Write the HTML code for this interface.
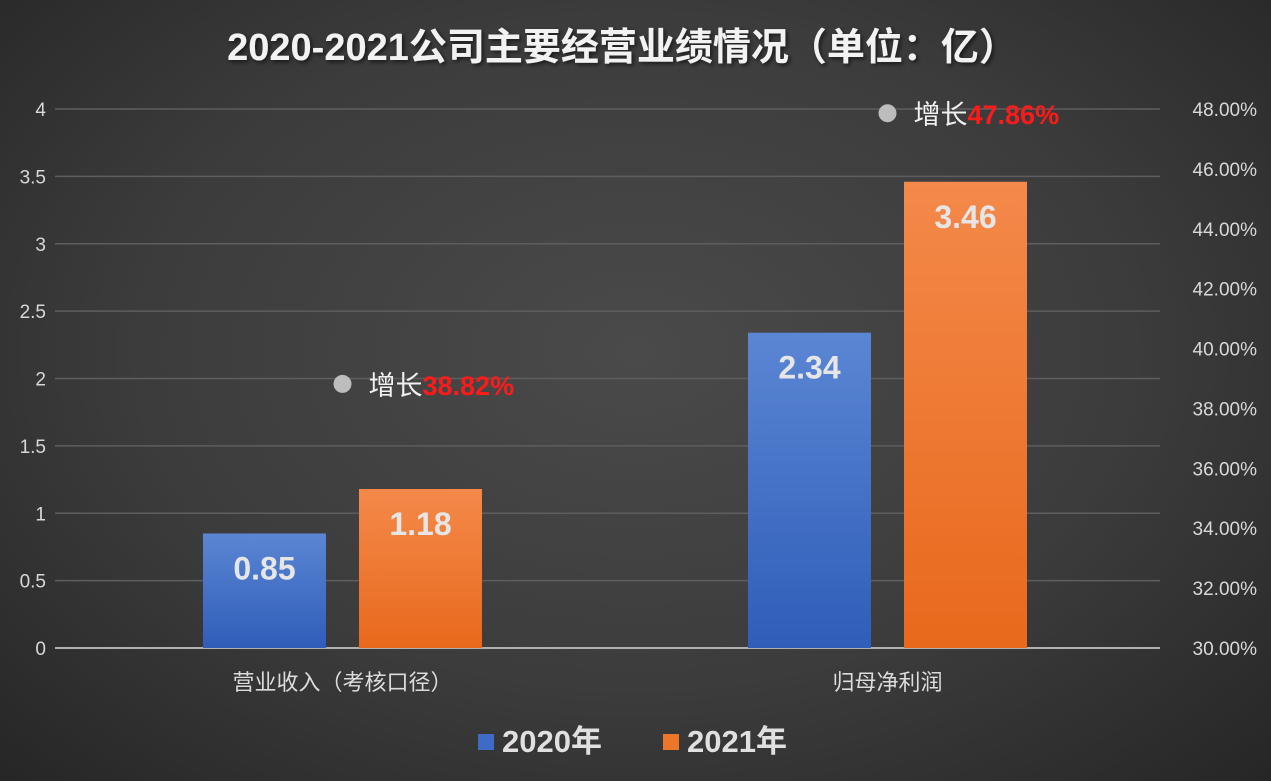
<!DOCTYPE html>
<html><head><meta charset="utf-8"><style>
html,body{margin:0;padding:0;}
body{width:1271px;height:781px;overflow:hidden;background:radial-gradient(ellipse at 50% 45%,#4a4a4a 0%,#3c3c3c 55%,#262626 100%);font-family:"Liberation Sans","Noto Sans CJK SC",sans-serif;}
svg{display:block}
</style></head><body>
<svg id="chart" width="1271" height="781" xmlns="http://www.w3.org/2000/svg">
<defs>
<linearGradient id="gb" x1="0" y1="0" x2="0" y2="1"><stop offset="0" stop-color="#5b86d4"/><stop offset="1" stop-color="#2f5db8"/></linearGradient>
<linearGradient id="go" x1="0" y1="0" x2="0" y2="1"><stop offset="0" stop-color="#f4894a"/><stop offset="1" stop-color="#e8691c"/></linearGradient>
<filter id="sh"><feDropShadow dx="2" dy="2" stdDeviation="2" flood-color="#000" flood-opacity="0.6"/></filter>
</defs>
<text x="622" y="60" text-anchor="middle" font-size="38" font-weight="bold" fill="#f2f2f2" filter="url(#sh)" font-family="'Liberation Sans','Noto Sans CJK SC',sans-serif">2020-2021公司主要经营业绩情况（单位：亿）</text>
<g id="grid"></g><g id="bars"></g><g id="labels"></g>
<g>
<rect x="478" y="734" width="16" height="16" fill="#3e6bc6"/>
<text x="502" y="752" font-size="31" font-weight="bold" fill="#e0e0e0">2020年</text>
<rect x="663" y="734" width="16" height="16" fill="#ee7628"/>
<text x="687" y="752" font-size="31" font-weight="bold" fill="#e0e0e0">2021年</text>
</g>
</svg>
<script>
const categories=["营业收入（考核口径）","归母净利润"];
const values2020=[0.85,2.34];
const values2021=[1.18,3.46];
const growth=[38.82,47.86];
const growthLabels=["38.82%","47.86%"];
const leftTicks=[0,0.5,1,1.5,2,2.5,3,3.5,4];
const leftTickLabels=["0","0.5","1","1.5","2","2.5","3","3.5","4"];
const rightTicks=[30,32,34,36,38,40,42,44,46,48];

const NS="http://www.w3.org/2000/svg";
const x0=70,x1=1160,yb=648,yt=109;
const yL=v=>yb-(v/4)*(yb-yt);
const yR=v=>yb-((v-30)/18)*(yb-yt);
const catW=(x1-x0)/categories.length;
const cx=i=>x0+catW*(i+0.5);
function mk(t,a,p){const e=document.createElementNS(NS,t);for(const k in a)e.setAttribute(k,a[k]);p.appendChild(e);return e;}
const grid=document.getElementById('grid'),bars=document.getElementById('bars'),labels=document.getElementById('labels');
leftTicks.forEach((v,i)=>{
 const l=mk('line',{x1:55,x2:x1,y1:yL(v),y2:yL(v),stroke:i==0?'#b0b0b0':'#5e5e5e','stroke-width':i==0?2:1.5},grid);
 
 
 const t=mk('text',{x:46,y:yL(v)+7,'text-anchor':'end','font-size':19,fill:'#d8d8d8'},grid);
 
 
 t.textContent=leftTickLabels[i];
});
rightTicks.forEach(v=>{
 const t=mk('text',{x:1257,y:yR(v)+7,'text-anchor':'end','font-size':19,fill:'#d8d8d8'},grid);
 
 
 t.textContent=v.toFixed(2)+'%';
});
const bw=123,gap=33;
categories.forEach((c,i)=>{
 const c0=cx(i);
 [[values2020,'url(#gb)',c0-gap/2-bw,'bar-2020'],[values2021,'url(#go)',c0+gap/2,'bar-2021']].forEach(([arr,f,x,n])=>{
  const y=yL(arr[i]);
  const r=mk('rect',{x:x,y:y,width:bw,height:yb-y,fill:f},bars);
  
  
  const t=mk('text',{x:x+bw/2,y:y+46,'text-anchor':'middle','font-size':32,'font-weight':'bold',fill:'#e6e6e6'},labels);
  
  
  t.textContent=arr[i].toFixed(2);
 });
 const t=mk('text',{x:c0,y:yb+42,'text-anchor':'middle','font-size':22,fill:'#dcdcdc'},labels);
 
 
 t.textContent=c;
 const gy=yR(growth[i]);
 const d=mk('circle',{cx:c0,cy:gy,r:9,fill:'#bdbdbd'},labels);
 
 
 const g=mk('text',{x:c0+26,y:gy+11,'font-size':27,fill:'#f0f0f0'},labels);
 
 
 g.textContent='增长';
 const s=mk('tspan',{fill:'#ff1a1a','font-weight':'bold'},g);
 s.textContent=growthLabels[i];
});
</script>
</body></html>
